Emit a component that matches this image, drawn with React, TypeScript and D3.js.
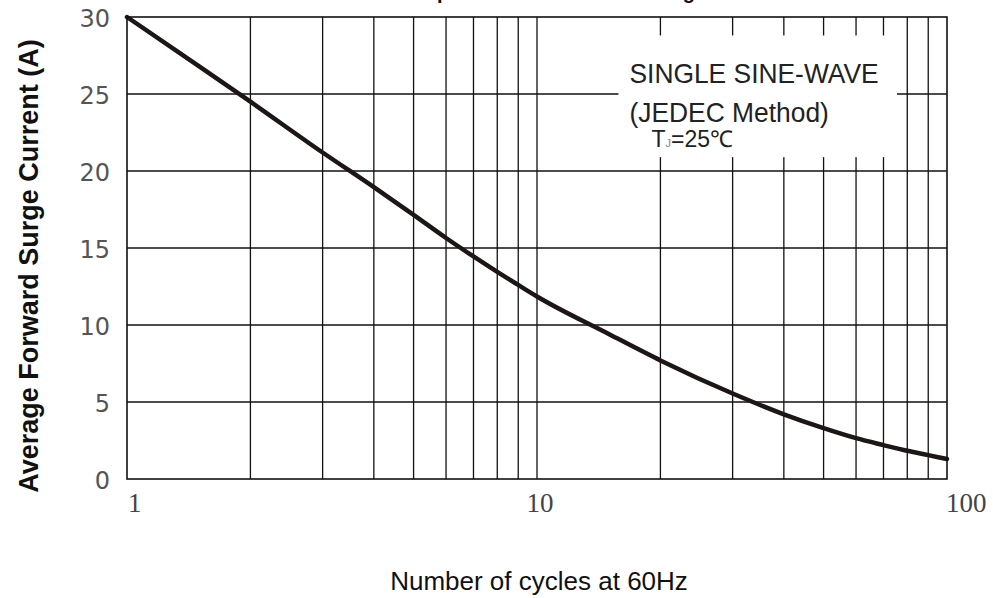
import React from "react";
import * as d3 from "d3";

// surge curve
const cycles = [1, 1.5, 2, 3, 4, 5, 6, 7, 8, 9, 10, 15, 20, 30, 40, 50, 60, 70, 80, 90, 100];
const surgeAmps = [30, 26.8, 24.5, 21.2, 18.95, 17.15, 15.65, 14.45, 13.45, 12.6, 11.85, 9.4, 7.7, 5.55, 4.2, 3.3, 2.65, 2.2, 1.83, 1.55, 1.3];

const xGrid = [2, 3, 4, 5, 6, 7, 8, 9, 10, 20, 30, 40, 50, 60, 70, 80, 90];
const xTickValues = [1, 10, 100];
const xTickLabels = ["1", "10", "100"];
const yTicks = [0, 5, 10, 15, 20, 25, 30];

const noteLines = ["SINGLE SINE-WAVE", "(JEDEC Method)"];
// note box corners in data units (cycles, amps)
const noteCycles = [15.8, 75.5];
const noteAmps = [20.9, 28.8];

const title = "Maximum Non-Repetitive Peak Forward Surge Current";
const xTitle = "Number of cycles at 60Hz";
const yTitle = "Average Forward Surge Current (A)";

const W = 993;
const H = 598;
const margin = { left: 127, top: 17, right: 46, bottom: 119 };

export default function App() {
  const x = d3
    .scaleLog()
    .domain([1, 100])
    .range([margin.left, W - margin.right]);
  const y = d3
    .scaleLinear()
    .domain([0, 30])
    .range([H - margin.bottom, margin.top]);

  const line = d3
    .line<number>()
    .x((d, i) => x(cycles[i]))
    .y((d) => y(d))
    .curve(d3.curveMonotoneX);

  const bx0 = x(noteCycles[0]);
  const bx1 = x(noteCycles[1]);
  const by0 = y(noteAmps[1]);
  const by1 = y(noteAmps[0]);

  const sans = "Arial, 'Liberation Sans', sans-serif";

  return (
    <div style={{ position: "absolute", left: 0, top: 0 }}>
      <svg width={W} height={H} style={{ display: "block", background: "#fff" }}>
        {/* title sits above the crop, only descenders show */}
        <text
          x={526}
          y={-1}
          textAnchor="middle"
          fontFamily={sans}
          fontWeight="bold"
          fontSize={20}
          fill="#111"
        >
          {title}
        </text>

        {/* grid */}
        <g stroke="#111" strokeWidth={1.3}>
          {xGrid.map((v) => (
            <line key={"vx" + v} x1={x(v)} x2={x(v)} y1={y(0)} y2={y(30)} />
          ))}
          {yTicks.slice(1, -1).map((v) => (
            <line key={"hy" + v} x1={x(1)} x2={x(100)} y1={y(v)} y2={y(v)} />
          ))}
        </g>

        {/* note box blanks the grid */}
        <rect x={bx0} y={by0} width={bx1 - bx0} height={by1 - by0} fill="#fff" />
        <g fontFamily={sans} fill="#222">
          <text transform={`translate(${bx0 + 11},83) scale(0.96,1)`} fontSize={27.5}>
            {noteLines[0]}
          </text>
          <text transform={`translate(${bx0 + 11},122) scale(0.96,1)`} fontSize={27.5}>
            {noteLines[1]}
          </text>
          <text x={bx0 + 33} y={147} fontSize={23}>
            T<tspan fontSize={11} fill="#888">J</tspan>=25℃
          </text>
        </g>

        <path
          d={line(surgeAmps) || ""}
          fill="none"
          stroke="#1c1616"
          strokeWidth={4.5}
          strokeLinecap="round"
        />

        <rect
          x={x(1)}
          y={y(30)}
          width={x(100) - x(1)}
          height={y(0) - y(30)}
          fill="none"
          stroke="#111"
          strokeWidth={1.6}
        />

        {/* y tick labels */}
        <g fontFamily="'DejaVu Sans', sans-serif" fontSize={24} fill="#555" textAnchor="end">
          {yTicks.map((v) => (
            <text key={"yt" + v} x={x(1) - 17} y={y(v) + 10}>
              {v}
            </text>
          ))}
        </g>

        {/* x tick labels */}
        <g fontFamily="'Liberation Serif', 'Times New Roman', serif" fontSize={27} fill="#444">
          {xTickValues.map((v, i) => (
            <text
              key={"xt" + v}
              x={i === 0 ? x(v) + 1 : i === xTickValues.length - 1 ? x(v) - 1 : x(v) + 3}
              y={512}
              textAnchor={i === 0 || i === xTickValues.length - 1 ? "start" : "middle"}
            >
              {xTickLabels[i]}
            </text>
          ))}
        </g>

        <text
          x={539}
          y={590}
          textAnchor="middle"
          fontFamily={sans}
          fontSize={26}
          fill="#111"
        >
          {xTitle}
        </text>

        <text
          transform={`translate(38,266) rotate(-90)`}
          textAnchor="middle"
          fontFamily={sans}
          fontWeight="bold"
          fontSize={27}
          fill="#111"
        >
          {yTitle}
        </text>
      </svg>
    </div>
  );
}
